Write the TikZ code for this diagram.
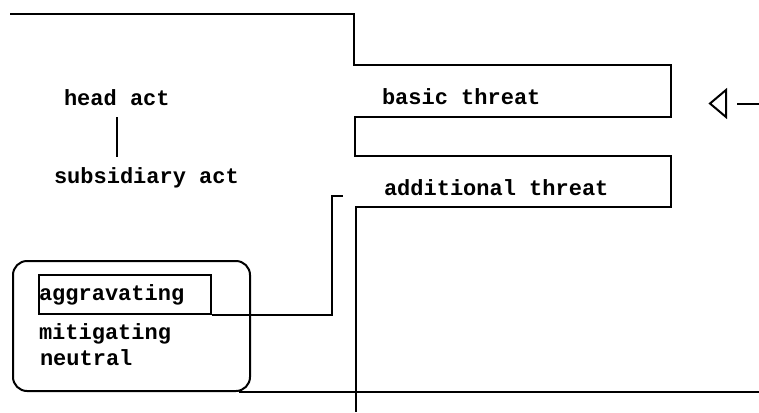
\documentclass[tikz,border=0pt]{standalone}
\usepackage{fontspec}
\newfontfamily\courfont{Liberation Mono}
\usetikzlibrary{calc}
\begin{document}
\begin{tikzpicture}[x=1pt,y=-1pt,line width=2pt,
  lbl/.style={anchor=base west,inner sep=0pt,font=\courfont\bfseries\fontsize{22}{26}\selectfont}]
\useasboundingbox (0,0) rectangle (759,412);
% staircase outline
\draw (10,14) -- (354,14) -- (354,65) -- (671,65) -- (671,117) -- (355,117)
  -- (355,156) -- (671,156) -- (671,207) -- (356,207) -- (356,412);
% labels
\node[lbl] (head) at (63,105) {head act};
\node[lbl] (sub) at (53,183) {subsidiary act};
\node[lbl] (basic) at (381,104) {basic threat};
\node[lbl] (add) at (383,195) {additional threat};
% modifier box
\node[draw,rounded corners=14pt,minimum width=237pt,minimum height=130pt,inner sep=0pt] (modbox) at (131.5,326) {};
\node[draw,minimum width=172pt,minimum height=39pt,inner sep=0pt,anchor=north west,line width=1.8pt] (agbox) at (38,274) {};
\node[lbl] (agg) at (38,300) {aggravating};
\node[lbl] (mit) at (38,339) {mitigating};
\node[lbl] (neu) at (39,365) {neutral};
% connectors
\draw ($(head.base)+(0,12)$) -- ($(head.base |- sub.base)+(0,-26)$);
\coordinate (addin) at (343,196);
\draw (agbox.south east) -- ++(120,0) |- (addin);
\coordinate (rightend) at (759,391);
\draw ($(modbox.south east)+(-12,0)$) -- (modbox.south east -| rightend);
% arrow
\coordinate (tip) at (710,103.5);
\coordinate (feed) at (759,103.5);
\draw (tip) -- (726,90) -- (726,117) -- cycle;
\draw (737,103.5) -- (feed);
\end{tikzpicture}
\end{document}
